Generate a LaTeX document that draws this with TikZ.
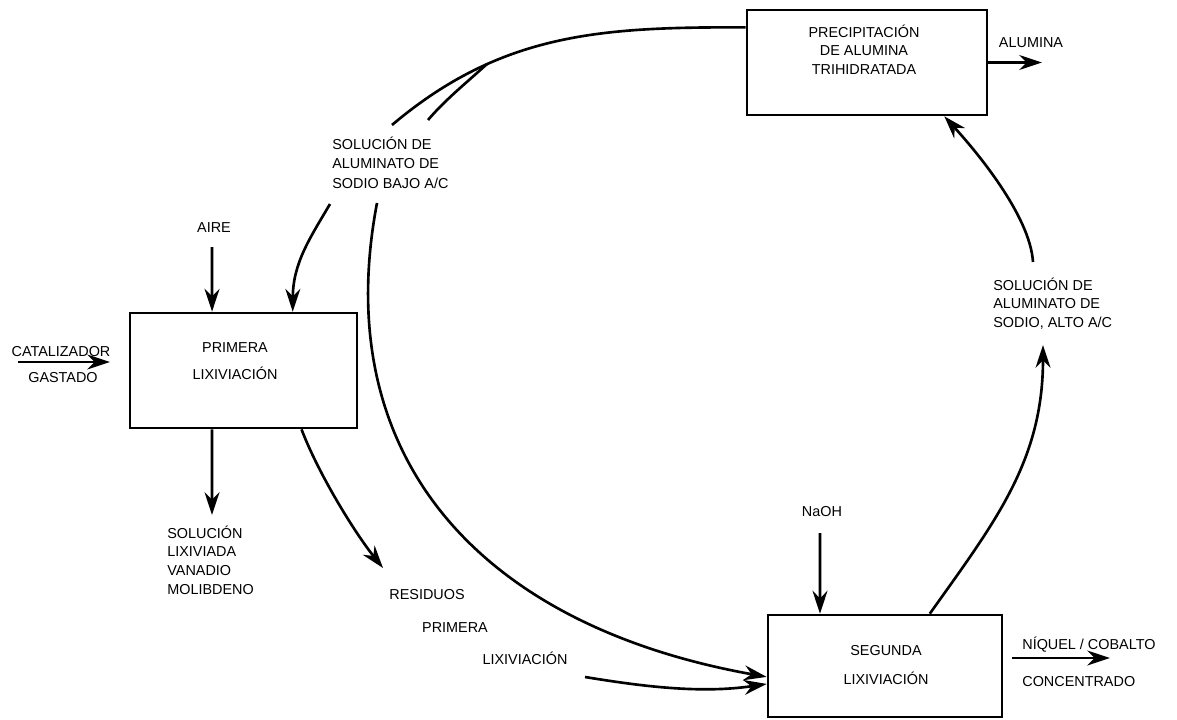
\documentclass[tikz,border=0pt]{standalone}
\usepackage{fontspec}
\setmainfont{Liberation Sans}
\usetikzlibrary{arrows.meta}
\begin{document}
\begin{tikzpicture}[x=0.02cm,y=-0.02cm,
  flow/.style={line width=1.5pt,-{Stealth[length=13pt,width=8.5pt]}},
  plain/.style={line width=1.5pt},
  box/.style={draw,line width=1.5pt,inner sep=0pt},
  lbl/.style={inner sep=0pt,font=\fontsize{8.2}{10.5}\selectfont}]
\useasboundingbox (0,0) rectangle (1177,720);

% boxes
\node[box,minimum width=4.8cm,minimum height=2.1cm] (pb) at (867,62.5) {};
\node[box,minimum width=4.54cm,minimum height=2.3cm] (lb) at (243.5,370.5) {};
\node[box,minimum width=4.68cm,minimum height=2.04cm] (sb) at (885,666) {};

% texts
\node[lbl,align=center] (pbt) at (864,49.5) {PRECIPITACIÓN\\DE ALUMINA\\TRIHIDRATADA};
\node[lbl,align=center,font=\fontsize{8.2}{15.3}\selectfont] (lbt) at (235,361.5) {PRIMERA\\LIXIVIACIÓN};
\node[lbl,align=center,font=\fontsize{8.2}{17}\selectfont] (sbt) at (886,665) {SEGUNDA\\LIXIVIACIÓN};
\node[lbl,align=left,anchor=west,font=\fontsize{8.2}{11}\selectfont] (bajo) at (332,162.5) {SOLUCIÓN DE\\ALUMINATO DE\\SODIO BAJO A/C};
\node[lbl,align=left,anchor=west] (alto) at (993,303.5) {SOLUCIÓN DE\\ALUMINATO DE\\SODIO, ALTO A/C};
\node[lbl,align=left,anchor=west,font=\fontsize{8.2}{10.6}\selectfont] (solx) at (167,560) {SOLUCIÓN\\LIXIVIADA\\VANADIO\\MOLIBDENO};
\node[lbl] (aire) at (214,228) {AIRE};
\node[lbl] (cat) at (61,352) {CATALIZADOR};
\node[lbl] (gas) at (63,378) {GASTADO};
\node[lbl] (alu) at (1031,43) {ALUMINA};
\node[lbl] (naoh) at (822,512) {NaOH};
\node[lbl,anchor=west] (niq) at (1022,645) {NÍQUEL / COBALTO};
\node[lbl,anchor=west] (conc) at (1022,682) {CONCENTRADO};
\node[lbl] (res1) at (427,595) {RESIDUOS};
\node[lbl] (res2) at (455,628) {PRIMERA};
\node[lbl] (res3) at (525,658) {LIXIVIACIÓN};

% free ends
\coordinate (aireS) at (212,247);
\coordinate (catS) at (18,362);
\coordinate (catE) at (110,362);
\coordinate (aluE) at (1042,62.5);
\coordinate (solE) at (212,515);
\coordinate (resE) at (383,568);
\coordinate (naohS) at (820,533);
\coordinate (niqS) at (1012,658);
\coordinate (niqE) at (1110,658);
\coordinate (altoS) at (1033,262);
\coordinate (altoE) at (1043,345);
\coordinate (bajoA) at (392,125);
\coordinate (bajoB) at (428,120);
\coordinate (jn) at (487,64);
\coordinate (bajoC) at (330,204);
\coordinate (bajoD) at (377,203);
\coordinate (resS2) at (585,677);

% connectors
\draw[flow] (aireS) -- ([xshift=-17.9pt]lb.north);
\draw[flow] (catS) -- (catE);
\draw[flow] (pb.east) -- (aluE);
\draw[flow] ([xshift=-17.9pt]lb.south) -- (solE);
\draw[flow] ([xshift=33pt]lb.south) .. controls (319,475) and (355,533) .. (resE);
\draw[flow] (naohS) -- ([xshift=-37pt]sb.north);
\draw[flow] (niqS) -- (niqE);
\draw[flow] ([xshift=25.5pt]sb.north) .. controls (995,522) and (1043,461) .. (altoE);
\draw[flow] (altoS) .. controls (1030,215) and (975,150) .. ([xshift=44pt]pb.south);
\draw[plain] ([yshift=20pt]pb.west) .. controls (603,27) and (502,32) .. (bajoA);
\draw[plain] (jn) .. controls (465,84) and (445,100) .. (bajoB);
\draw[flow] (bajoC) .. controls (310,238) and (293,263) .. ([xshift=28pt]lb.north);
\draw[flow] (bajoD) .. controls (329,455) and (477,625) .. ([yshift=-6.2pt]sb.west);
\draw[flow] (resS2) .. controls (640,686) and (700,694) .. ([yshift=-10.2pt]sb.west);
\end{tikzpicture}
\end{document}
